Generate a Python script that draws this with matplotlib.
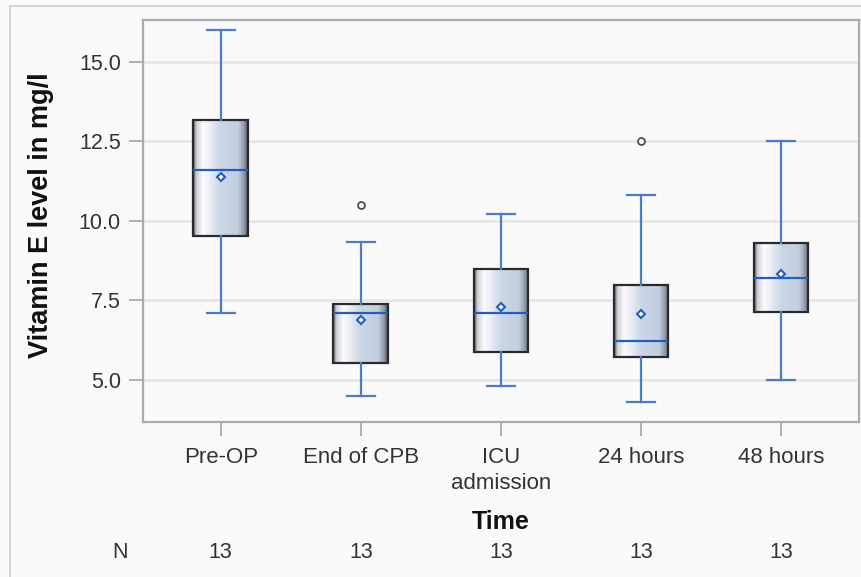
import matplotlib.pyplot as plt
import numpy as np
from matplotlib.lines import Line2D
from matplotlib.transforms import blended_transform_factory

plt.rcParams['font.family'] = ['Liberation Sans', 'DejaVu Sans']

labels = ['Pre-OP', 'End of CPB', 'ICU\nadmission', '24 hours', '48 hours']
n_obs = [13, 13, 13, 13, 13]
whis_low = [7.1, 4.5, 4.8, 4.3, 5.0]
q1 = [9.53, 5.55, 5.87, 5.73, 7.13]
median = [11.6, 7.12, 7.12, 6.22, 8.22]
mean = [11.38, 6.88, 7.3, 7.06, 8.34]
q3 = [13.18, 7.4, 8.48, 8.0, 9.29]
whis_high = [16.0, 9.33, 10.2, 10.8, 12.5]
outliers = [[], [10.5], [], [12.5], []]

bg = '#fafafa'
blue = '#4a7cc8'
dark_blue = '#1f5fbf'
txt_col = '#333333'

fig = plt.figure(figsize=(8.61, 5.77), dpi=100, facecolor=bg)
ax = fig.add_axes([143 / 861, 1 - 422 / 577, 716 / 861, 402 / 577])
ax.set_facecolor(bg)

stats = []
for i in range(len(labels)):
    stats.append(dict(whislo=whis_low[i], q1=q1[i], med=median[i], mean=mean[i],
                      q3=q3[i], whishi=whis_high[i], fliers=outliers[i]))

pos = np.arange(len(labels))
bp = ax.bxp(stats, positions=pos, widths=0.39, showmeans=True, patch_artist=True,
            boxprops=dict(facecolor='none', edgecolor='#2b2b2b', linewidth=1.6),
            medianprops=dict(color=dark_blue, linewidth=1.6),
            whiskerprops=dict(color=blue, linewidth=1.6),
            capprops=dict(color=blue, linewidth=1.6),
            capwidths=0.2,
            meanprops=dict(marker='D', markersize=4.5, markerfacecolor='white',
                           markeredgecolor=dark_blue, markeredgewidth=1.5),
            flierprops=dict(marker='o', markersize=5, markerfacecolor='white',
                            markeredgecolor='#505050', markeredgewidth=1.3),
            zorder=3)

# shaded box fill: dark rim, white highlight, steel blue body
stops = [0.0, 0.06, 0.18, 0.5, 0.82, 0.94, 1.0]
cols = np.array([[0.30, 0.31, 0.33], [0.80, 0.81, 0.83], [0.99, 0.99, 1.0],
                 [0.80, 0.84, 0.90], [0.76, 0.81, 0.88], [0.55, 0.58, 0.63],
                 [0.28, 0.29, 0.31]])
t = np.linspace(0, 1, 200)
grad = np.stack([np.interp(t, stops, cols[:, k]) for k in range(3)], axis=-1)[None, :, :]
for i, box in enumerate(bp['boxes']):
    im = ax.imshow(grad, extent=[pos[i] - 0.195, pos[i] + 0.195, q1[i], q3[i]],
                   aspect='auto', zorder=2, interpolation='bilinear')
    im.set_clip_path(box)

ax.set_xlim(-0.555, 4.557)
ax.set_ylim(3.683, 16.307)
ax.set_yticks([5.0, 7.5, 10.0, 12.5, 15.0])
ax.set_yticklabels(['5.0', '7.5', '10.0', '12.5', '15.0'])
ax.set_xticks(pos)
ax.set_xticklabels(labels, linespacing=1.3)
ax.yaxis.grid(True, color='#e6e6e6', linewidth=1.8, zorder=0)
ax.set_axisbelow(True)

for s in ax.spines.values():
    s.set_color('#a8acb0')
    s.set_linewidth(1.6)
ax.tick_params(axis='both', colors='#a8acb0', length=10, width=1.3,
               labelcolor=txt_col, pad=6)
ax.tick_params(axis='y', labelsize=15.5)
ax.tick_params(axis='x', labelsize=16, pad=8)

ax.set_ylabel('Vitamin E level in mg/l', fontsize=19.5, fontweight='bold', color='#111111',
              ha='center', va='center')
ax.yaxis.set_label_coords(-0.1425, 0.515)
ax.set_xlabel('Time', fontsize=18, fontweight='bold', color='#111111', va='center')
ax.xaxis.set_label_coords(0.5, -0.249)

# counts row below the axis
tr = blended_transform_factory(ax.transData, fig.transFigure)
row_y = 1 - 553 / 577
ax.text(-0.72, row_y, 'N', transform=tr, fontsize=15.5, color=txt_col,
        ha='center', va='center')
for i, n in enumerate(n_obs):
    ax.text(pos[i], row_y, str(n), transform=tr, fontsize=15.5, color=txt_col,
            ha='center', va='center')

# outer frame
fig.add_artist(Line2D([10 / 861, 10 / 861], [0, 1 - 6 / 577], color='#d4d4d4', lw=1.5))
fig.add_artist(Line2D([10 / 861, 1], [1 - 6 / 577, 1 - 6 / 577], color='#d4d4d4', lw=1.5))

fig.savefig('out.png', dpi=100, facecolor=bg)
